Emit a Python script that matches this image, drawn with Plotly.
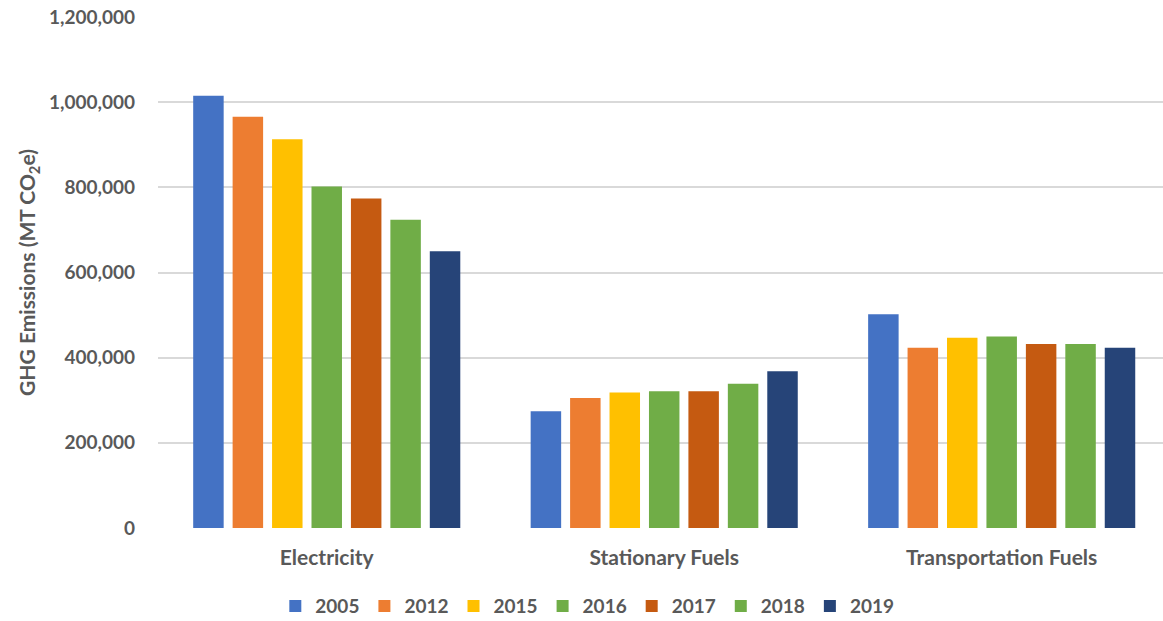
import plotly.graph_objects as go

categories = ["Electricity", "Stationary Fuels", "Transportation Fuels"]
years = ["2005", "2012", "2015", "2016", "2017", "2018", "2019"]

emissions_2005 = [1015000, 274000, 502000]
emissions_2012 = [966000, 305000, 423000]
emissions_2015 = [913000, 318000, 447000]
emissions_2016 = [802000, 321000, 450000]
emissions_2017 = [774000, 321000, 432000]
emissions_2018 = [724000, 339000, 432000]
emissions_2019 = [650000, 368000, 423000]

series = [emissions_2005, emissions_2012, emissions_2015, emissions_2016,
          emissions_2017, emissions_2018, emissions_2019]
colors = ["#4472C4", "#ED7D31", "#FFC000", "#70AD47", "#C55A11", "#70AD47", "#264478"]

FONT = "Lato"
TEXT = "#595959"

fig = go.Figure()
for year, values, color in zip(years, series, colors):
    fig.add_trace(go.Bar(
        name=year, x=categories, y=values,
        marker=dict(color=color, line=dict(width=0)),
    ))

fig.update_layout(
    width=1163, height=621,
    paper_bgcolor="white", plot_bgcolor="white",
    barmode="group", bargap=0.182, bargroupgap=0.227,
    margin=dict(l=158, r=0, t=17, b=93),
    font=dict(family=FONT, color=TEXT, size=19),
    showlegend=True,
    legend=dict(
        orientation="h",
        xref="container", x=0.505, xanchor="center",
        yref="container", y=0.024, yanchor="middle",
        font=dict(family=FONT, size=19, color=TEXT, weight="bold"),
        itemwidth=30, traceorder="normal",
    ),
)

fig.update_xaxes(
    range=[-0.5, 2.478], showgrid=False, zeroline=False, showline=False,
    ticks="", tickfont=dict(family=FONT, size=21, color=TEXT, weight="bold"),
    ticklabelstandoff=15,
)
fig.update_yaxes(
    range=[0, 1200000], dtick=200000, tickformat=",d",
    showgrid=True, gridcolor="#D9D9D9", gridwidth=2,
    zeroline=False, showline=False, ticks="",
    tickfont=dict(family=FONT, size=19, color=TEXT, weight="bold"),
    ticklabelstandoff=22,
    title=dict(text="GHG Emissions (MT CO<sub>2</sub>e)",
               font=dict(family=FONT, size=21, color=TEXT, weight="bold"),
               standoff=7),
)

fig.write_html("out.html")
